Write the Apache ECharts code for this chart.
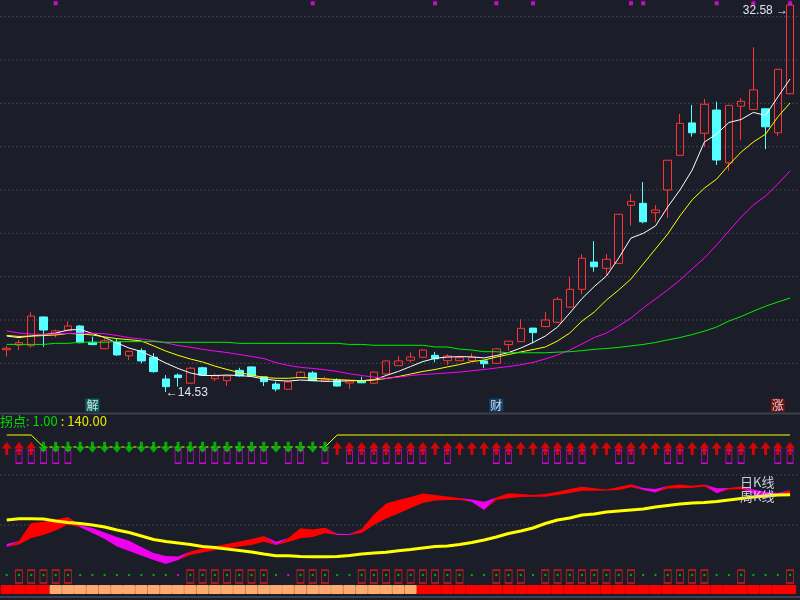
<!DOCTYPE html>
<html><head><meta charset="utf-8">
<script src="https://cdn.jsdelivr.net/npm/echarts@6/dist/echarts.min.js"></script>
<style>html,body{margin:0;padding:0;background:#1b1e29}#c{width:800px;height:600px}</style>
</head><body><div id="c"></div>
<script>
// ---------- data ----------
const categories = Array.from({length: 65}, (_, i) => 'K' + (i + 1));
const opens  = [16.50,16.72,16.69,18.03,17.24,17.39,17.61,16.85,16.55,16.86,16.22,16.46,16.15,15.14,15.32,14.94,15.66,15.15,15.06,15.54,15.70,15.24,14.90,14.66,15.20,15.42,15.04,15.08,14.95,15.04,14.94,15.37,15.76,16.01,16.15,16.24,15.99,15.99,15.99,15.98,15.87,16.74,16.88,17.51,17.58,17.78,18.49,19.32,20.59,20.30,20.53,23.24,23.33,22.89,23.95,25.57,27.08,26.60,27.68,25.22,27.86,27.71,27.74,26.62,28.44];
const closes = [16.57,16.83,18.07,17.42,17.38,17.61,16.83,16.74,16.92,16.26,16.43,15.98,15.48,14.78,15.20,15.64,15.32,15.28,15.28,15.28,15.28,15.01,14.67,15.00,15.45,15.06,15.14,14.81,15.04,14.96,15.46,15.98,15.98,16.16,16.49,16.08,16.21,16.13,16.13,15.85,16.54,16.90,17.50,17.30,17.89,18.85,19.32,20.77,20.37,20.72,22.82,23.42,22.47,23.02,25.34,27.06,26.62,27.95,25.35,27.90,28.09,28.62,26.90,29.58,32.58];
const lows   = [16.18,16.49,16.60,16.64,17.08,17.37,16.80,16.72,16.53,16.22,16.02,15.87,15.43,14.53,14.78,14.92,15.30,15.04,14.81,15.24,15.26,14.81,14.56,14.64,15.18,15.04,15.02,14.79,14.68,14.94,14.92,15.35,15.74,15.90,16.13,15.92,15.79,15.97,15.97,15.64,15.85,16.46,16.86,16.80,17.56,17.76,18.47,19.09,20.14,19.99,20.51,22.29,22.40,22.47,22.66,25.55,26.44,25.97,25.12,24.85,26.28,27.69,25.86,26.48,28.42];
const highs  = [16.69,16.96,18.25,18.05,17.45,17.84,17.65,17.11,17.06,17.00,16.45,16.57,16.34,15.32,15.40,15.71,15.71,15.40,15.30,15.66,15.72,15.26,15.01,15.02,15.51,15.50,15.24,15.17,15.06,15.24,15.48,16.00,16.21,16.38,16.51,16.40,16.29,16.22,16.34,16.00,16.58,16.92,17.92,17.53,18.26,18.96,19.89,20.97,21.57,20.97,22.84,23.77,24.32,23.25,25.36,27.50,27.92,28.20,28.07,27.92,28.23,30.61,27.76,29.60,32.58];
const ma5  = [17.14,17.07,17.14,17.21,17.28,17.42,17.45,17.26,17.07,16.82,16.58,16.42,16.16,15.88,15.63,15.42,15.30,15.30,15.32,15.30,15.25,15.14,15.07,15.04,15.09,15.06,15.03,15.03,15.06,15.06,15.10,15.30,15.49,15.72,15.95,16.10,16.16,16.18,16.17,16.12,16.23,16.37,16.58,16.84,17.14,17.56,18.21,18.89,19.45,19.94,20.78,21.71,21.93,22.27,23.16,23.95,24.88,26.19,26.56,27.10,27.24,27.57,27.43,28.29,29.13];
const ma10 = [17.17,17.12,17.14,17.16,17.19,17.26,17.24,17.19,17.10,17.02,16.97,16.91,16.68,16.44,16.24,16.07,15.93,15.74,15.58,15.44,15.32,15.21,15.17,15.17,15.21,15.18,15.14,15.11,15.08,15.06,15.09,15.16,15.25,15.37,15.49,15.58,15.70,15.81,15.95,16.02,16.16,16.28,16.40,16.51,16.63,16.91,17.28,17.84,18.26,18.82,19.29,19.80,20.50,21.20,21.90,22.74,23.49,24.04,24.46,25.12,25.72,26.19,26.56,27.36,28.01];
const ma20 = [17.38,17.28,17.23,17.22,17.24,17.26,17.27,17.27,17.25,17.17,17.06,17.00,16.93,16.82,16.70,16.62,16.52,16.44,16.37,16.28,16.19,16.09,15.90,15.77,15.68,15.63,15.57,15.49,15.38,15.30,15.22,15.17,15.22,15.30,15.35,15.38,15.42,15.46,15.52,15.58,15.65,15.72,15.80,15.91,16.07,16.26,16.49,16.77,17.07,17.28,17.61,17.98,18.45,18.87,19.29,19.75,20.27,20.78,21.39,22.04,22.69,23.25,23.67,24.23,24.84];
const ma60 = [16.75,16.75,16.75,16.75,16.80,16.80,16.85,16.85,16.85,16.88,16.88,16.88,16.88,16.85,16.85,16.85,16.85,16.85,16.85,16.80,16.80,16.80,16.80,16.80,16.80,16.80,16.80,16.80,16.75,16.75,16.71,16.71,16.71,16.71,16.71,16.63,16.63,16.53,16.49,16.41,16.41,16.36,16.36,16.36,16.36,16.39,16.41,16.46,16.52,16.56,16.61,16.68,16.75,16.84,16.96,17.07,17.21,17.37,17.56,17.84,18.05,18.30,18.53,18.73,18.91];
const topSignals = [4,25,35,40,43,51,52,58,61,64];
const events = [{i:7, text:'解'}, {i:40, text:'财'}, {i:63, text:'涨'}];
// turning-point state: 1 = up (red arrow), 0 = down (green arrow)
const trend = [1,1,1,0,0,0,0,0,0,0,0,0,0,0,0,0,0,0,0,0,0,0,0,0,0,0,0,1,1,1,1,1,1,1,1,1,1,1,1,1,1,1,1,1,1,1,1,1,1,1,1,1,1,1,1,1,1,1,1,1,1,1,1,1,1];
const turnBoxes = [1,2,3,4,5,14,15,16,17,18,19,20,21,23,24,26,28,29,30,31,32,33,34,36,40,41,44,45,46,47,50,51,54,55,57,59,60,63,64];
const turnHigh = 40, turnLow = 28;
// daily / weekly K line indicator
const dailyLine = [53,59,77,78.3,80.5,83,72.7,67,61,53.5,49,44.5,40,36,40,48.5,51.5,53.7,56,58.5,61,64,55,62,71.7,70.5,72.3,65,65,71,85.5,96.5,100,103,106.5,105,103.5,102,98,90,102.5,106.7,106,105,106,108.3,111,113.3,111.7,110.5,113,115.7,110,107.5,114,115.5,114.3,115.5,106.7,112,113.5,106,101.7,105,110];
const dailyRef  = [56,55.5,62,65,69.5,75.5,75,72,67.5,63,59.3,53,47,44,43.5,45,47.5,49.7,51.5,53.5,55,58.3,58.3,58,61.7,63,66.7,66.3,66,67,75,81.5,86.5,92,97,99.5,100,100,100.5,98.3,100,101.7,103,103.3,103.3,105,107,109.3,109.3,109.5,110,112.7,112,111,111.5,111.7,112.3,113.5,111.7,110.5,111,110.5,108.3,107,105];
const weeklyLine = [80,81.3,81.3,81,79,77.5,76.5,75,73,70,67.5,64,60.5,58.5,57,55.5,53.5,52.5,51,49.5,48,46,44.3,44.3,43.5,43.3,43.3,43.5,44.5,46,47,47.7,49.3,50.5,52,53.5,54,55.5,57.5,60,63,66.5,69,72,76.5,80,82,85,86,88,89,90,91,93,94.5,96,97,97.5,98.5,100,101.5,103,104,105,105.3];
const signalBoxes = [1,2,3,4,5,15,16,17,18,19,20,21,24,25,26,29,30,31,32,33,34,35,36,37,40,41,42,44,45,46,47,48,49,50,51,54,55,56,57,60,64];
const magentaDots = [14,23];
// bottom state bar: 1 = red, 0 = orange
const barState = [1,1,1,1,0,0,0,0,0,0,0,0,0,0,0,0,0,0,0,0,0,0,0,0,0,0,0,0,0,0,0,0,0,0,1,1,1,1,1,1,1,1,1,1,1,1,1,1,1,1,1,1,1,1,1,1,1,1,1,1,1,1,1,1,1];

// ---------- style ----------
const BG = '#1b1e29';
const eventBg = {'解':'#08706e', '财':'#124a80', '涨':'#8a1212'};
const upArrow = 'path://M5,0 L10,6.5 L6.5,6.5 L6.5,13 L3.5,13 L3.5,6.5 L0,6.5 Z';
const downArrow = 'path://M3.5,0 L6.5,0 L6.5,5 L10,5 L5,11 L0,5 L3.5,5 Z';

// ---------- derived ----------
const ohlc = opens.map((o, i) => [o, closes[i], lows[i], highs[i]]);
let minIdx = 0, maxIdx = 0;
lows.forEach((v, i) => { if (v < lows[minIdx]) minIdx = i; });
highs.forEach((v, i) => { if (v > highs[maxIdx]) maxIdx = i; });
const yMin = 13.551, yMax = 32.813;
const topY = 32.66, eventY = 13.92;

const solidTurn = trend.map((t, i) => {
  if (t === 1) return turnHigh;
  if ((i > 0 && trend[i-1] === 1) || (i < trend.length-1 && trend[i+1] === 1)) return turnLow;
  return null;
});
const dashTurn = trend.map(t => t === 0 ? turnLow : null);
const bandBase = dailyLine.map((v, i) => Math.min(v, dailyRef[i]));
const bandRed = dailyLine.map((v, i) => Math.max(0, v - dailyRef[i]));
const bandMag = dailyLine.map((v, i) => Math.max(0, dailyRef[i] - v));

const gridYs = [16.7, 60, 103.3, 146.7, 190, 233.3, 276.7, 320, 363.3, 475, 525];
const graphics = gridYs.map(y => ({
  type: 'line', z: 0, silent: true,
  shape: {x1: 0, y1: y, x2: 800, y2: y},
  style: {stroke: '#4a4e5a', lineWidth: 1, lineDash: [1.5, 2.5]}
}));
graphics.push({type:'line', z:0, silent:true, shape:{x1:0,y1:413.5,x2:800,y2:413.5}, style:{stroke:'#3d414d', lineWidth:2}});
graphics.push({type:'line', z:0, silent:true, shape:{x1:0,y1:597,x2:800,y2:597}, style:{stroke:'#3d414d', lineWidth:2}});
graphics.push({type:'text', left: 0, top: 415, z: 10, style: {
  text: '{g|拐点: 1.00} {y|: 140.00}',
  font: '13px "Noto Sans CJK SC", sans-serif',
  rich: {g: {fill: '#00dd00', font: '13px "Noto Sans CJK SC", sans-serif'}, y: {fill: '#e6e600', font: '13px "Noto Sans CJK SC", sans-serif'}}
}});
graphics.push({type:'text', left: 740, top: 476, z: 10, style: {text: '日K线', fill: '#c9d0dc', font: '13px "Noto Sans CJK SC", sans-serif'}});
graphics.push({type:'text', left: 740, top: 490, z: 10, style: {text: '周K线', fill: '#c9d0dc', font: '13px "Noto Sans CJK SC", sans-serif'}});

const xAx = gi => ({type:'category', gridIndex: gi, data: categories, show: false, boundaryGap: true});
const chart = echarts.init(document.getElementById('c'), null, {renderer: 'canvas'});
chart.setOption({
  backgroundColor: BG,
  animation: false,
  graphic: graphics,
  grid: [
    {left: 0.6, width: 795.6, top: 0, height: 413},
    {left: 0.6, width: 795.6, top: 413, height: 62},
    {left: 0.6, width: 795.6, top: 475, height: 125}
  ],
  xAxis: [xAx(0), xAx(1), xAx(2)],
  yAxis: [
    {type:'value', gridIndex:0, min:yMin, max:yMax, show:false, splitLine:{show:false}},
    {type:'value', gridIndex:1, min:0, max:62, show:false, splitLine:{show:false}},
    {type:'value', gridIndex:2, min:0, max:125, show:false, splitLine:{show:false}}
  ],
  series: [
    {type:'candlestick', xAxisIndex:0, yAxisIndex:0, data: ohlc, barWidth: 8,
     itemStyle:{color:'rgba(0,0,0,0)', color0:'#54ffff', borderColor:'#ff3333', borderColor0:'#54ffff', borderWidth:1},
     markPoint: {symbol:'circle', symbolSize: 0, silent: true, data: [
       {coord:[categories[minIdx], lows[minIdx]], value: lows[minIdx],
        label:{show:true, position:'right', distance:0, offset:[0,1], formatter: '←' + lows[minIdx].toFixed(2), color:'#dfe6f0', fontSize:12, fontFamily:'Liberation Sans'}},
       {coord:[categories[maxIdx], highs[maxIdx]], value: highs[maxIdx],
        label:{show:true, position:'left', distance:2, offset:[0,6], formatter: highs[maxIdx].toFixed(2) + ' →', color:'#dfe6f0', fontSize:12, fontFamily:'Liberation Sans'}}
     ]}},
    {type:'line', name:'MA5', data: ma5, symbol:'none', lineStyle:{color:'#ffffff', width:1}, silent:true, z:3},
    {type:'line', name:'MA10', data: ma10, symbol:'none', lineStyle:{color:'#ffff00', width:1}, silent:true, z:3},
    {type:'line', name:'MA20', data: ma20, symbol:'none', lineStyle:{color:'#ff00ff', width:1}, silent:true, z:3},
    {type:'line', name:'MA60', data: ma60, symbol:'none', lineStyle:{color:'#00ee00', width:1}, silent:true, z:3},
    {type:'scatter', data: topSignals.map(i => [i, topY]), symbol:'rect', symbolSize:4, itemStyle:{color:'#ff00ff'}, silent:true},
    {type:'scatter', data: events.map(e => ({value:[e.i, eventY], name:e.text,
       label:{show:true, position:'inside', formatter:e.text, color:'#ffffff', backgroundColor:eventBg[e.text], padding:[1,1,0,1], fontSize:12, fontFamily:'"Noto Sans CJK SC"'}})),
     symbolSize: 0, silent:true, z:5},
    // pane 2: turning points
    {type:'scatter', xAxisIndex:1, yAxisIndex:1, data: turnBoxes.map(i => [i, 18.3]), symbol:'rect', symbolSize:[6,13],
     itemStyle:{color:'rgba(0,0,0,0)', borderColor:'#ff00ff', borderWidth:1}, silent:true},
    {type:'line', xAxisIndex:1, yAxisIndex:1, data: solidTurn, symbol:'none', connectNulls:false, lineStyle:{color:'#ffff00', width:1}, silent:true},
    {type:'line', xAxisIndex:1, yAxisIndex:1, data: dashTurn, symbol:'none', lineStyle:{color:'#ffff00', width:1, type:[3,3]}, silent:true},
    {type:'scatter', xAxisIndex:1, yAxisIndex:1, data: trend.map((t,i)=>t===1?[i,26.5]:null).filter(Boolean), symbol: upArrow, symbolSize:[10,13], itemStyle:{color:'#ff0000'}, silent:true, z:4},
    {type:'scatter', xAxisIndex:1, yAxisIndex:1, data: trend.map((t,i)=>t===0?[i,27.8]:null).filter(Boolean), symbol: downArrow, symbolSize:[10,11], itemStyle:{color:'#00cc00'}, silent:true, z:4},
    // pane 3: daily band and weekly line
    {type:'line', xAxisIndex:2, yAxisIndex:2, data: bandBase, stack:'band', symbol:'none', lineStyle:{width:0, opacity:0}, silent:true},
    {type:'line', xAxisIndex:2, yAxisIndex:2, data: bandRed, stack:'band', symbol:'none', lineStyle:{width:0, opacity:0}, areaStyle:{color:'#ff0000', opacity:1}, silent:true},
    {type:'line', xAxisIndex:2, yAxisIndex:2, data: bandMag, stack:'band', symbol:'none', lineStyle:{width:0, opacity:0}, areaStyle:{color:'#ee00ee', opacity:1}, silent:true},
    {type:'line', xAxisIndex:2, yAxisIndex:2, data: weeklyLine, symbol:'none', lineStyle:{color:'#ffff00', width:3}, silent:true, z:4},
    {type:'scatter', xAxisIndex:2, yAxisIndex:2, data: signalBoxes.map(i => [i, 23.5]), symbol:'rect', symbolSize:[7,13],
     itemStyle:{color:'rgba(0,0,0,0)', borderColor:'#ff1a1a', borderWidth:1}, silent:true},
    {type:'scatter', xAxisIndex:2, yAxisIndex:2, data: categories.map((c,i) => ({value:[i, 25], itemStyle:{color: magentaDots.includes(i) ? '#ff00ff' : '#00cc00'}})),
     symbol:'rect', symbolSize:[2,2], silent:true},
    {type:'bar', xAxisIndex:2, yAxisIndex:2, data: barState.map(() => 6), stack:'st', barCategoryGap:'0%', itemStyle:{color:'rgba(0,0,0,0)'}, silent:true},
    {type:'bar', xAxisIndex:2, yAxisIndex:2, data: barState.map(s => ({value: 9, itemStyle:{color: s ? '#ff0000' : '#ffaa70', borderColor: s ? '#ff0000' : '#ffaa70', borderWidth: 1}})), stack:'st', barCategoryGap:'0%', silent:true}
  ]
});
</script></body></html>
